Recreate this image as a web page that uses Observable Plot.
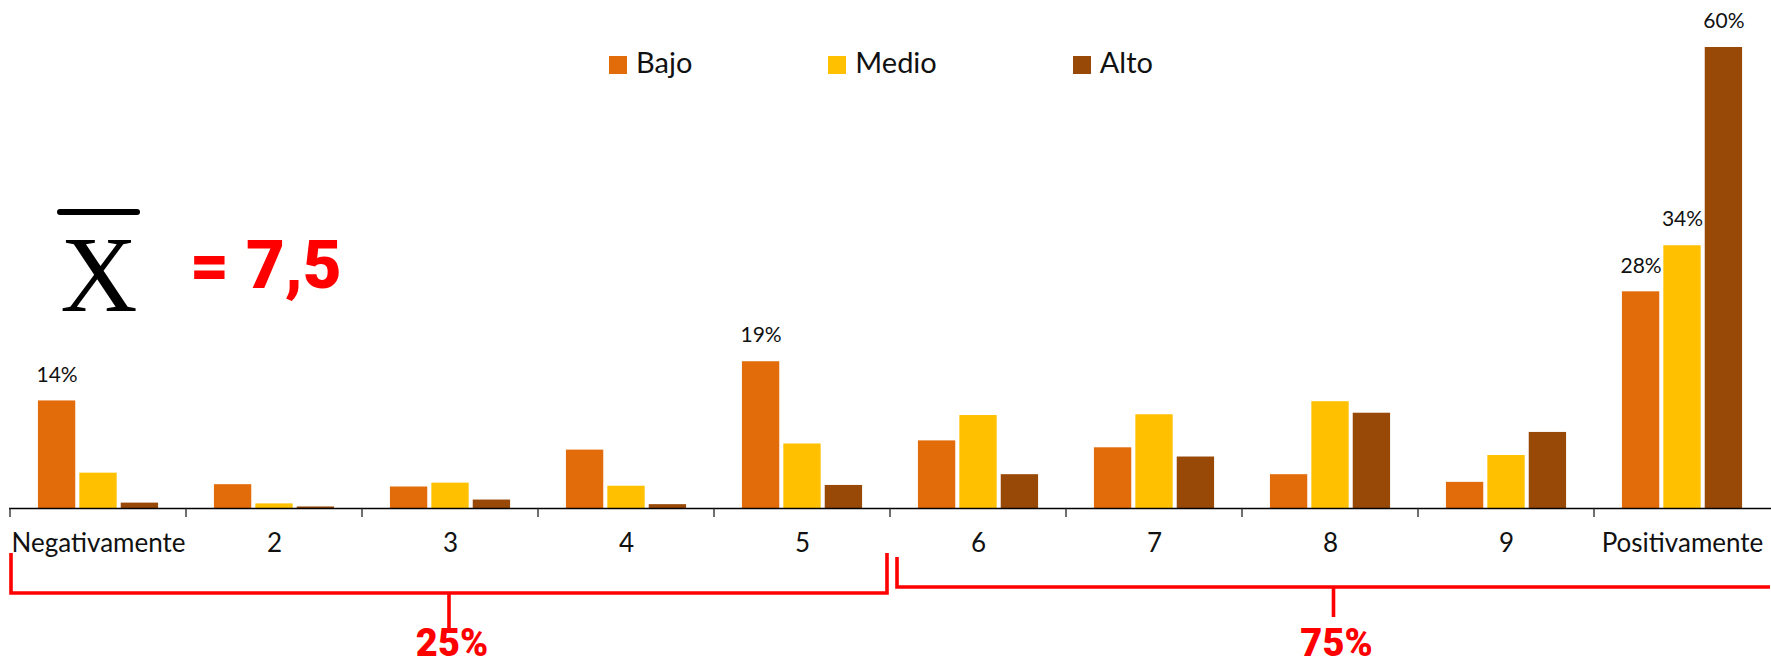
<!DOCTYPE html>
<html>
<head>
<meta charset="utf-8">
<script src="https://cdn.jsdelivr.net/npm/d3@7"></script>
<script src="https://cdn.jsdelivr.net/npm/@observablehq/plot@0.6"></script>
<style>
  html, body { margin: 0; padding: 0; background: #fff; }
  #wrap { position: relative; width: 1771px; height: 666px; overflow: hidden; }
  #legend { position: absolute; top: 44px; left: 609px; display: flex; align-items: center;
            font-family: Lato, sans-serif; font-size: 29px; line-height: 36px; color: #111; }
  #legend .item { display: flex; align-items: center; margin-right: 136px; }
  #legend .sw { width: 18px; height: 18px; margin-right: 9px; margin-top: 6px; }
</style>
</head>
<body>
<div id="wrap"></div>
<script>
// ---- data ----
const categories = ["Negativamente", "2", "3", "4", "5", "6", "7", "8", "9", "Positivamente"];
const series = ["Bajo", "Medio", "Alto"];
const bajo  = [14.0, 3.1, 2.8, 7.6, 19.1, 8.8, 7.9, 4.4, 3.4, 28.2];
const medio = [4.6, 0.6, 3.3, 2.9, 8.4, 12.1, 12.2, 13.9, 6.9, 34.2];
const alto  = [0.7, 0.2, 1.1, 0.5, 3.0, 4.4, 6.7, 12.4, 9.9, 60.0];
const colors = ["#E36C0A", "#FFC000", "#984807"];
const labelled = [["Negativamente", "Bajo"], ["5", "Bajo"], ["Positivamente", "Bajo"],
                  ["Positivamente", "Medio"], ["Positivamente", "Alto"]];
const meanValue = "7,5";
const groupLabels = ["25%", "75%"];
const groupFirst = ["Negativamente", "6"];
const groupLast = ["5", "Positivamente"];

// ---- table ----
const valuesBySeries = [bajo, medio, alto];
const rows = categories.flatMap((c, i) => series.map((s, j) => ({category: c, series: s, value: valuesBySeries[j][i]})));
const isLabelled = d => labelled.some(([c, s]) => c === d.category && s === d.series);

// ---- layout ----
const W = 1771, H = 666, ML = 9, MR = 0, MT = 47, MB = 158;
const step = (W - ML - MR) / categories.length;
const barW = step * 0.213;
const barStep = step * 0.235;
const inset = (step - barW) / 2;

const barMarks = series.flatMap((s, j) => {
  const data = rows.filter(d => d.series === s);
  const dx = (j - 1) * barStep;
  return [
    Plot.barY(data, {x: "category", y: "value", fill: "series", dx, insetLeft: inset, insetRight: inset}),
    Plot.text(data.filter(isLabelled), {x: "category", y: "value", text: d => Math.round(d.value) + "%",
      dx, dy: -26, fontSize: 21, fill: "#111"})
  ];
});

function annotations(index, scales, values, dims) {
  const x = scales.x, y = scales.y;
  const bw = typeof x.bandwidth === "function" ? x.bandwidth() : step;
  const y0 = y(0);
  const g = d3.create("svg:g");
  // boundary ticks
  g.append("g").selectAll("line").data(categories).join("line")
    .attr("x1", d => x(d)).attr("x2", d => x(d))
    .attr("y1", y0).attr("y2", y0 + 9)
    .attr("stroke", "#222").attr("stroke-width", 1.3);
  // brackets
  const insetL = [1, 7], insetR = [3, 0], top = [45, 49], bottom = [85, 79], stem = [122, 109];
  groupLabels.forEach((lab, k) => {
    const xL = x(groupFirst[k]) + insetL[k];
    const xR = x(groupLast[k]) + bw - insetR[k];
    let p = `M${xL},${y0 + top[k]}V${y0 + bottom[k]}H${xR}`;
    if (xR < dims.width - 2) p += `V${y0 + top[k]}`;
    const xm = (xL + xR) / 2;
    g.append("path").attr("d", p).attr("fill", "none").attr("stroke", "#FF0000").attr("stroke-width", 3.6);
    g.append("line").attr("x1", xm).attr("x2", xm).attr("y1", y0 + bottom[k]).attr("y2", y0 + stem[k])
      .attr("stroke", "#FF0000").attr("stroke-width", 3.6);
    g.append("text").attr("x", xm + 3).attr("y", y0 + 148).attr("text-anchor", "middle")
      .attr("font-family", "Roboto, sans-serif").attr("font-weight", 900).attr("font-size", 38)
      .attr("fill", "#FF0000").text(lab);
  });
  // mean annotation
  g.append("line").attr("x1", 60).attr("x2", 137).attr("y1", 212).attr("y2", 212)
    .attr("stroke", "#000").attr("stroke-width", 6).attr("stroke-linecap", "round");
  g.append("text").attr("x", 99).attr("y", 311).attr("text-anchor", "middle")
    .attr("font-family", "'Liberation Serif', 'DejaVu Serif', serif").attr("font-size", 107)
    .attr("fill", "#000").text("X");
  g.append("text").attr("x", 190).attr("y", 288).attr("text-anchor", "start")
    .attr("font-family", "Roboto, sans-serif").attr("font-weight", 900).attr("font-size", 67)
    .attr("fill", "#FF0000").text("= " + meanValue);
  return g.node();
}

const chart = Plot.plot({
  width: W, height: H,
  marginLeft: ML, marginRight: MR, marginTop: MT, marginBottom: MB,
  x: {domain: categories, padding: 0},
  y: {domain: [0, 60], axis: null},
  color: {domain: series, range: colors},
  style: {fontFamily: "Lato, sans-serif", fontSize: "26px", color: "#111", background: "white", overflow: "visible"},
  marks: [
    ...barMarks,
    Plot.ruleY([0], {stroke: "#000", strokeWidth: 1.6}),
    Plot.axisX({tickSize: 0, tickPadding: 25, fontSize: 26, label: null, fill: "#111"}),
    annotations
  ]
});

const wrap = document.getElementById("wrap");
wrap.appendChild(chart);

// legend
const legend = document.createElement("div");
legend.id = "legend";
series.forEach((s, j) => {
  const item = document.createElement("div");
  item.className = "item";
  const sw = document.createElement("span");
  sw.className = "sw";
  sw.style.background = colors[j];
  const t = document.createElement("span");
  t.textContent = s;
  item.appendChild(sw); item.appendChild(t);
  legend.appendChild(item);
});
wrap.appendChild(legend);
</script>
</body>
</html>
